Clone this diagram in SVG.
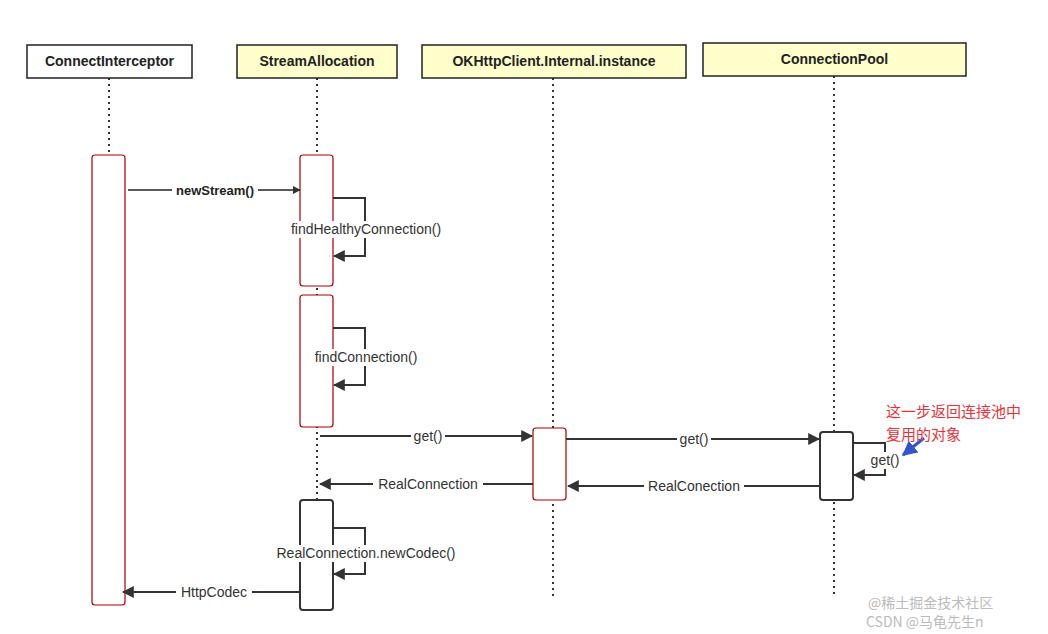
<svg xmlns="http://www.w3.org/2000/svg" width="1048" height="634" viewBox="0 0 1048 634">
<style>
.hd{stroke:#222;stroke-width:1.5}
.ht{font:bold 14px "Liberation Sans",Arial,sans-serif;fill:#222;text-anchor:middle}
.ll{stroke:#333;stroke-width:2;stroke-dasharray:2 4;fill:none}
.act{fill:#fff;stroke:#a00;stroke-width:1.2}
.actd{fill:#fff;stroke:#333;stroke-width:2}
.m{stroke:#333;stroke-width:2;fill:none;marker-end:url(#a)}
.t{font:14px "Liberation Sans",Arial,sans-serif;fill:#333;text-anchor:middle}
.bg{fill:#fff}
</style>
<defs>
<marker id="a" viewBox="0 0 10 10" refX="9" refY="5" markerWidth="6" markerHeight="6" orient="auto"><path d="M0 0L10 5L0 10z" fill="#333"/></marker>
<marker id="b" viewBox="0 0 10 10" refX="9" refY="5" markerWidth="5" markerHeight="5" orient="auto"><path d="M0 0L10 5L0 10z" fill="#3355cc"/></marker>
</defs>
<rect width="1048" height="634" fill="#fff"/>
<g id="lifelines">
<line class="ll" x1="109" y1="78" x2="109" y2="155"/>
<line class="ll" x1="317" y1="78" x2="317" y2="500"/>
<line class="ll" x1="553" y1="78" x2="553" y2="598"/>
<line class="ll" x1="834" y1="76" x2="834" y2="596"/>
</g>
<g id="n-ci"><rect class="hd" x="27" y="45" width="165" height="33" fill="#fff"/><text class="ht" x="109.5" y="66">ConnectInterceptor</text></g>
<g id="n-sa"><rect class="hd" x="237" y="45" width="160" height="33" fill="#ffffcc"/><text class="ht" x="317" y="66">StreamAllocation</text></g>
<g id="n-ok"><rect class="hd" x="422" y="45" width="264" height="33" fill="#ffffcc"/><text class="ht" x="554" y="66">OKHttpClient.Internal.instance</text></g>
<g id="n-cp"><rect class="hd" x="703" y="43" width="263" height="33" fill="#ffffcc"/><text class="ht" x="834.5" y="64">ConnectionPool</text></g>
<g id="activations">
<rect class="act" x="92" y="155" width="33" height="450" rx="3"/>
<rect class="act" x="300" y="155" width="33" height="131" rx="3"/>
<rect class="act" x="300" y="295" width="33" height="132" rx="3"/>
<rect class="act" x="533" y="428" width="33" height="72" rx="3"/>
<rect class="actd" x="820" y="432" width="33" height="68" rx="3"/>
<rect class="actd" x="300" y="500" width="33" height="110" rx="3"/>
</g>
<g id="connectors">
<line x1="128" y1="190" x2="300" y2="190" stroke="#222" stroke-width="1.3" marker-end="url(#a)"/>
<rect class="bg" x="172" y="182" width="86" height="16"/>
<text x="215" y="195" style="font:bold 13px 'Liberation Sans',Arial,sans-serif;fill:#222" text-anchor="middle">newStream()</text>
<path class="m" d="M333 198H365V256H334"/>
<rect class="bg" x="282" y="221" width="168" height="17"/>
<text class="t" x="366" y="234">findHealthyConnection()</text>
<path class="m" d="M333 328H365V385H334"/>
<rect class="bg" x="307" y="349" width="118" height="17"/>
<text class="t" x="366" y="362">findConnection()</text>
<line class="m" x1="320" y1="436" x2="532" y2="436"/>
<rect class="bg" x="411" y="428" width="34" height="17"/>
<text class="t" x="428" y="441">get()</text>
<line class="m" x1="566" y1="439" x2="819" y2="439"/>
<rect class="bg" x="677" y="431" width="34" height="17"/>
<text class="t" x="694" y="444">get()</text>
<path class="m" d="M853 443H885V475H854"/>
<rect class="bg" x="869" y="452" width="32" height="17"/>
<text class="t" x="885" y="465">get()</text>
<line class="m" x1="533" y1="484" x2="320" y2="484"/>
<rect class="bg" x="373" y="476" width="110" height="17"/>
<text class="t" x="428" y="489">RealConnection</text>
<line class="m" x1="820" y1="486" x2="568" y2="486"/>
<rect class="bg" x="644" y="478" width="100" height="17"/>
<text class="t" x="694" y="491">RealConection</text>
<path class="m" d="M333 528H365V574H334"/>
<rect class="bg" x="270" y="545" width="193" height="17"/>
<text class="t" x="366" y="558">RealConnection.newCodec()</text>
<line class="m" x1="300" y1="592" x2="123" y2="592"/>
<rect class="bg" x="176" y="584" width="76" height="17"/>
<text class="t" x="214" y="597">HttpCodec</text>
<line x1="924" y1="438" x2="903" y2="455" stroke="#3355cc" stroke-width="3" marker-end="url(#b)"/>
</g>
<g id="note" style="font:15px 'Noto Sans CJK SC',sans-serif;fill:#e8333a">
<text x="886" y="417">这一步返回连接池中</text>
<text x="886" y="440">复用的对象</text>
</g>
<g id="watermark" style="font:14px 'Noto Sans CJK SC',sans-serif;fill:#bbb">
<text x="868" y="608">@稀土掘金技术社区</text>
<text x="866" y="627">CSDN @马龟先生n</text>
</g>
</svg>
